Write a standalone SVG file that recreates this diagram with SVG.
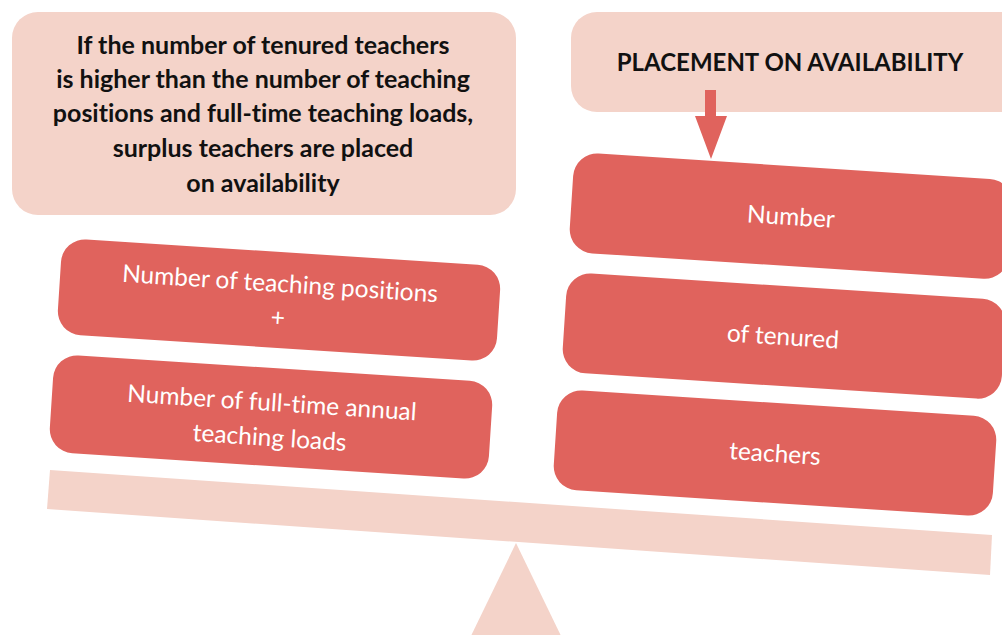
<svg xmlns="http://www.w3.org/2000/svg" width="1002" height="635" viewBox="0 0 1002 635">
<style>
.pale{fill:#f4d3c9}
.red{fill:#e0635d}
.hd{font-family:Lato,"Noto Sans",sans-serif;font-weight:bold;font-size:25px;fill:#111;text-anchor:middle;font-variant-ligatures:none}
.bt{font-family:Lato,"Noto Sans",sans-serif;font-size:24.5px;fill:#fff;text-anchor:middle;font-variant-ligatures:none}
</style>
<rect width="1002" height="635" fill="#fff"/>
<g id="stand">
<polygon class="pale" points="50,470 992,535 990,575 47,509"/>
<polygon class="pale" points="516,543 563,640 469,640"/>
</g>
<g id="condition">
<rect class="pale" x="12" y="12" width="504" height="203" rx="26"/>
<text class="hd" x="263" y="54">If the number of tenured teachers</text>
<text class="hd" x="263" y="88">is higher than the number of teaching</text>
<text class="hd" x="263" y="122">positions and full-time teaching loads,</text>
<text class="hd" x="263" y="157">surplus teachers are placed</text>
<text class="hd" x="263" y="192">on availability</text>
</g>
<g id="placement">
<rect class="pale" x="571" y="12" width="460" height="100" rx="26"/>
<text class="hd" x="790" y="71" style="font-size:24px">PLACEMENT ON AVAILABILITY</text>
</g>
<g id="connectors">
<polygon class="red" points="705,90 716,90 716,116 727,116 711,159 695,116 705,116"/>
</g>
<g id="positions" transform="translate(279,300) rotate(3.7)">
<rect class="red" x="-220" y="-48" width="440" height="96" rx="24"/>
<text class="bt" x="0" y="-8">Number of teaching positions</text>
<text class="bt" x="0" y="26">+</text>
</g>
<g id="loads" transform="translate(271,417) rotate(3.7)">
<rect class="red" x="-220" y="-49" width="440" height="98" rx="24"/>
<text class="bt" x="0" y="-6">Number of full-time annual</text>
<text class="bt" x="0" y="29">teaching loads</text>
</g>
<g id="number" transform="translate(789,216) rotate(3.7)">
<rect class="red" x="-218" y="-50" width="440" height="100" rx="24"/>
<text class="bt" x="2" y="9">Number</text>
</g>
<g id="tenured" transform="translate(783,336) rotate(3.7)">
<rect class="red" x="-219" y="-50" width="440" height="100" rx="24"/>
<text class="bt" x="0" y="9">of tenured</text>
</g>
<g id="teachers" transform="translate(775,453) rotate(3.7)">
<rect class="red" x="-220" y="-50" width="440" height="100" rx="24"/>
<text class="bt" x="0" y="9">teachers</text>
</g>
</svg>
